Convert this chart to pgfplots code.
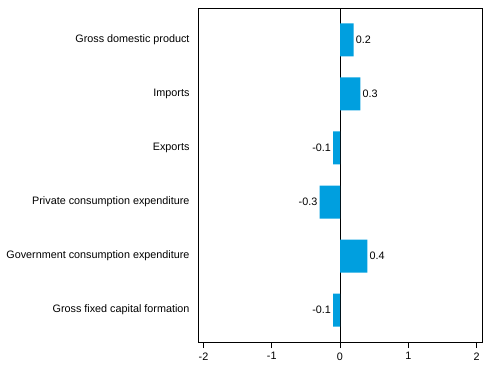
\documentclass[border=0pt]{standalone}
\usepackage{pgfplots}
\pgfplotsset{compat=1.18}
\usepackage{fontspec}
\setmainfont{Liberation Sans}
\definecolor{barblue}{RGB}{0,159,223}
\begin{document}
\begin{tikzpicture}
\begin{axis}[
  name=ax,
  scale only axis,
  width=284bp, height=334bp,
  xbar,
  xmin=-2.08, xmax=2.08,
  ymin=-0.59, ymax=5.59,
  bar width=0.61,
  xtick={-2,-1,0,1,2},
  ytick={0,1,2,3,4,5},
  yticklabels={Gross fixed capital formation,Government consumption expenditure,Private consumption expenditure,Exports,Imports,Gross domestic product},
  major y tick style={draw=none},
  tick align=outside,
  major tick length=6bp,
  xtick pos=bottom,
  tick style={black, line width=0.8pt},
  axis line style={black, line width=0.8pt},
  /pgf/number format/assume math mode=true,
  tick label style={font=\fontsize{10.8bp}{13bp}\selectfont},
  yticklabel style={xshift=1bp},
  xticklabel style={yshift=-1bp},
  nodes near coords={\pgfmathprintnumber[fixed,precision=1,zerofill,assume math mode=true]{\pgfplotspointmeta}},
  nodes near coords style={font=\fontsize{10.8bp}{13bp}\selectfont, inner sep=2bp},
  extra x ticks={0},
  extra x tick style={grid=major, major grid style={black, line width=0.8pt}, tick style={draw=none}, xticklabels={}},
]
\addplot[fill=barblue, draw=none] coordinates {
  (-0.1,0) (0.4,1) (-0.3,2) (-0.1,3) (0.3,4) (0.2,5)
};
\end{axis}
\path[use as bounding box] (ax.south west) ++(-198bp,-35bp) rectangle ++(491bp,377bp);
\end{tikzpicture}
\end{document}
